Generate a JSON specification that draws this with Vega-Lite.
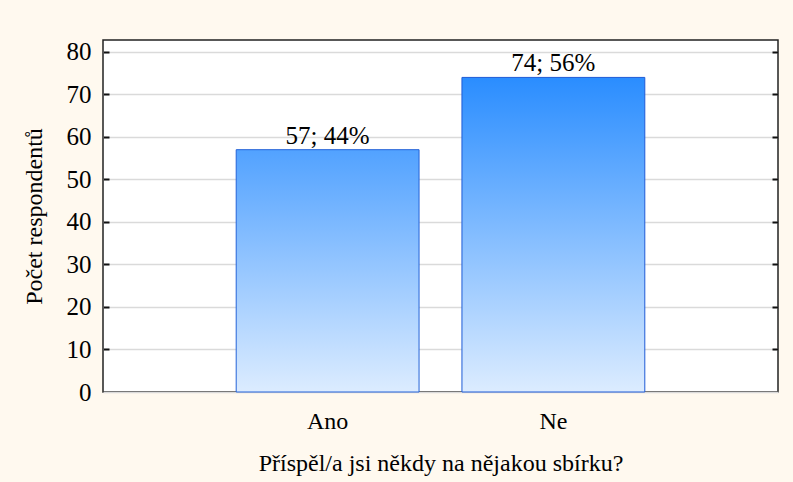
{
  "$schema": "https://vega.github.io/schema/vega-lite/v6.json",
  "autosize": "none",
  "padding": {"left": 103, "top": 40, "right": 15, "bottom": 90},
  "width": 675,
  "height": 352,
  "background": "#FFF9EF",
  "config": {
    "view": {"stroke": "#222222", "strokeWidth": 1.5, "fill": "#FFFFFF"},
    "font": "Liberation Serif",
    "axis": {
      "labelFont": "Liberation Serif",
      "titleFont": "Liberation Serif",
      "labelColor": "#000000",
      "titleColor": "#000000",
      "titleFontWeight": "normal",
      "domain": false
    }
  },
  "data": {
    "values": [
      {"answer": "Ano", "count": 57, "label": "57; 44%"},
      {"answer": "Ne", "count": 74, "label": "74; 56%"}
    ]
  },
  "encoding": {
    "x": {
      "field": "answer",
      "type": "nominal",
      "sort": ["Ano", "Ne"],
      "scale": {"paddingInner": 0.19, "paddingOuter": 0.59},
      "axis": {
        "title": "Příspěl/a jsi někdy na nějakou sbírku?",
        "labelAngle": 0,
        "labelFontSize": 24,
        "titleFontSize": 24,
        "ticks": false,
        "labelPadding": 17,
        "titlePadding": 18
      }
    },
    "y": {
      "field": "count",
      "type": "quantitative",
      "scale": {"domain": [0, 82.8], "nice": false},
      "title": "Počet respondentů"
    }
  },
  "layer": [
    {
      "transform": [{"filter": "datum.answer === 'Ano'"}],
      "mark": {
        "type": "bar",
        "stroke": "#2463D8",
        "strokeWidth": 1,
        "fill": {
          "gradient": "linear",
          "x1": 0, "y1": 0, "x2": 0, "y2": 1,
          "stops": [
            {"offset": 0, "color": "#52A2FF"},
            {"offset": 1, "color": "#DCECFF"}
          ]
        }
      },
      "encoding": {
        "y": {
          "field": "count",
          "type": "quantitative",
          "axis": {
            "orient": "left",
            "values": [0, 10, 20, 30, 40, 50, 60, 70, 80],
            "labelFontSize": 25,
            "titleFontSize": 24,
            "ticks": false,
            "labelPadding": 12,
            "titlePadding": 20,
            "grid": true,
            "gridColor": "#DADADA",
            "gridWidth": 1.5
          }
        }
      }
    },
    {
      "transform": [{"filter": "datum.answer === 'Ne'"}],
      "mark": {
        "type": "bar",
        "stroke": "#1E5BD6",
        "strokeWidth": 1,
        "fill": {
          "gradient": "linear",
          "x1": 0, "y1": 0, "x2": 0, "y2": 1,
          "stops": [
            {"offset": 0, "color": "#2A8DFF"},
            {"offset": 1, "color": "#DCECFF"}
          ]
        }
      },
      "encoding": {
        "y": {
          "field": "count",
          "type": "quantitative",
          "axis": {
            "orient": "right",
            "offset": -675,
            "values": [10, 20, 30, 40, 50, 60, 70, 80],
            "labels": false,
            "title": null,
            "tickSize": 6,
            "tickColor": "#111111",
            "tickWidth": 2,
            "grid": false
          }
        }
      }
    },
    {
      "mark": {"type": "text", "baseline": "alphabetic", "dy": -6, "fontSize": 25, "font": "Liberation Serif", "color": "#000000"},
      "encoding": {
        "text": {"field": "label"},
        "y": {
          "field": "count",
          "type": "quantitative",
          "axis": {
            "orient": "left",
            "offset": -675,
            "values": [10, 20, 30, 40, 50, 60, 70, 80],
            "labels": false,
            "title": null,
            "tickSize": 6,
            "tickColor": "#111111",
            "tickWidth": 2,
            "grid": false
          }
        }
      }
    }
  ],
  "resolve": {"axis": {"y": "independent"}}
}
